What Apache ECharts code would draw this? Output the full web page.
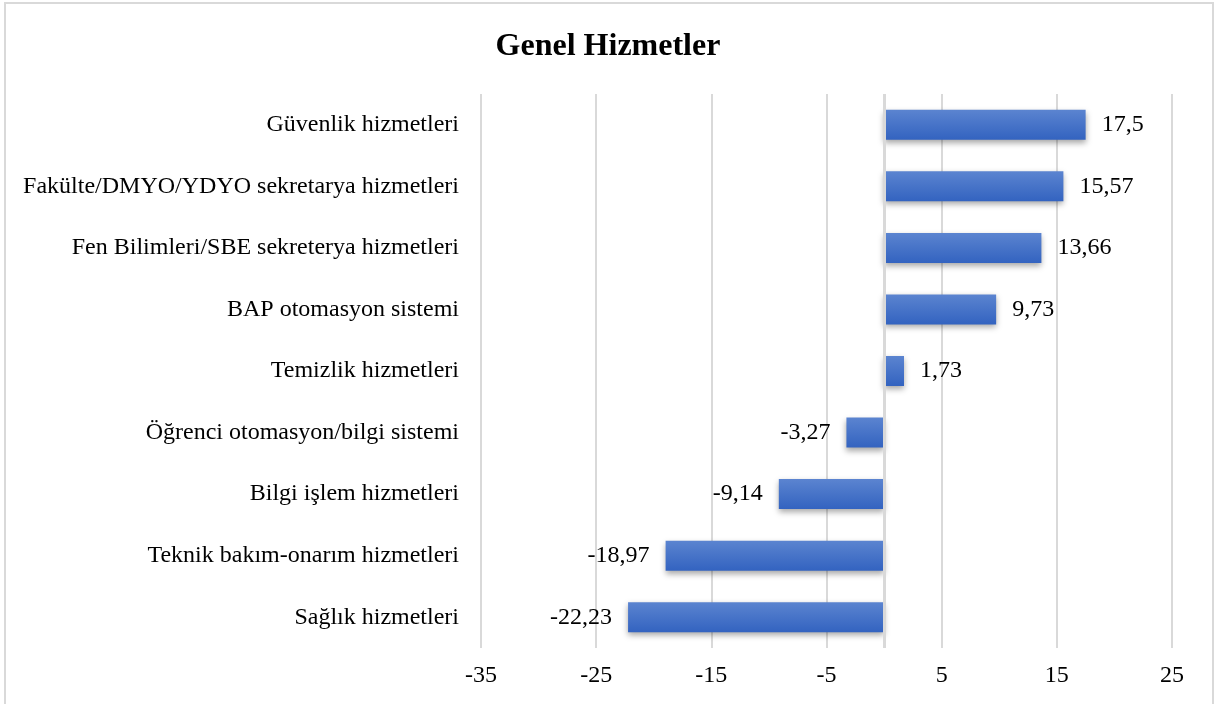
<!DOCTYPE html>
<html>
<head>
<meta charset="utf-8">
<script src="https://cdn.jsdelivr.net/npm/echarts@6/dist/echarts.min.js"></script>
<style>
  html, body { margin: 0; padding: 0; background: #fff; }
  #main-chart { width: 1216px; height: 704px; }
</style>
</head>
<body>
<div id="main-chart"></div>
<script>
var categories = [
    'Güvenlik hizmetleri',
    'Fakülte/DMYO/YDYO sekretarya hizmetleri',
    'Fen Bilimleri/SBE sekreterya hizmetleri',
    'BAP otomasyon sistemi',
    'Temizlik hizmetleri',
    'Öğrenci otomasyon/bilgi sistemi',
    'Bilgi işlem hizmetleri',
    'Teknik bakım-onarım hizmetleri',
    'Sağlık hizmetleri'
];
var values = [17.5, 15.57, 13.66, 9.73, 1.73, -3.27, -9.14, -18.97, -22.23];
var axisMin = -35;
var axisMax = 25;
var axisStep = 10;

var dom = document.getElementById("main-chart");
var myChart = echarts.init(dom);
var font = '"Liberation Serif", "Times New Roman", serif';

var option = {
    animation: false,
    textStyle: { fontFamily: font },
    title: {
        text: 'Genel Hizmetler',
        left: 'center',
        top: 26,
        textStyle: { fontFamily: font, fontSize: 32, fontWeight: 'bold', color: '#000' }
    },
    graphic: [{
        type: 'rect',
        shape: { x: 5, y: 3, width: 1208, height: 712 },
        style: { fill: 'none', stroke: '#d9d9d9', lineWidth: 2 },
        silent: true
    }],
    grid: { left: 481, right: 44, top: 94, bottom: 56, containLabel: false },
    xAxis: {
        type: 'value',
        min: axisMin,
        max: axisMax,
        interval: axisStep,
        axisLine: { show: false },
        axisTick: { show: false },
        splitLine: { lineStyle: { color: '#d9d9d9', width: 2 } },
        axisLabel: { fontFamily: font, fontSize: 24, color: '#000', margin: 16 }
    },
    yAxis: {
        type: 'category',
        inverse: true,
        data: categories,
        axisLine: { show: false, onZero: false },
        axisTick: { show: false },
        axisLabel: { fontFamily: font, fontSize: 24, color: '#000', margin: 22 }
    },
    series: [{
        type: 'bar',
        data: values,
        barWidth: 30,
        itemStyle: {
            color: new echarts.graphic.LinearGradient(0, 0, 0, 1, [
                { offset: 0, color: '#5b84d0' },
                { offset: 1, color: '#3363c0' }
            ]),
            shadowColor: 'rgba(0,0,0,0.35)',
            shadowBlur: 6,
            shadowOffsetY: 3
        },
        label: {
            show: true,
            position: 'right',
            distance: 16,
            fontFamily: font,
            fontSize: 24,
            color: '#000',
            formatter: function (p) {
                return String(p.value).replace('.', ',');
            }
        },
        markLine: {
            silent: true,
            symbol: 'none',
            label: { show: false },
            lineStyle: { color: '#d9d9d9', width: 3, type: 'solid' },
            data: [{ xAxis: 0 }]
        }
    }]
};

// negative bars get their labels on the left
option.series[0].data = values.map(function (v) {
    return v < 0 ? { value: v, label: { position: 'left' } } : v;
});

myChart.setOption(option, true);
</script>
</body>
</html>
